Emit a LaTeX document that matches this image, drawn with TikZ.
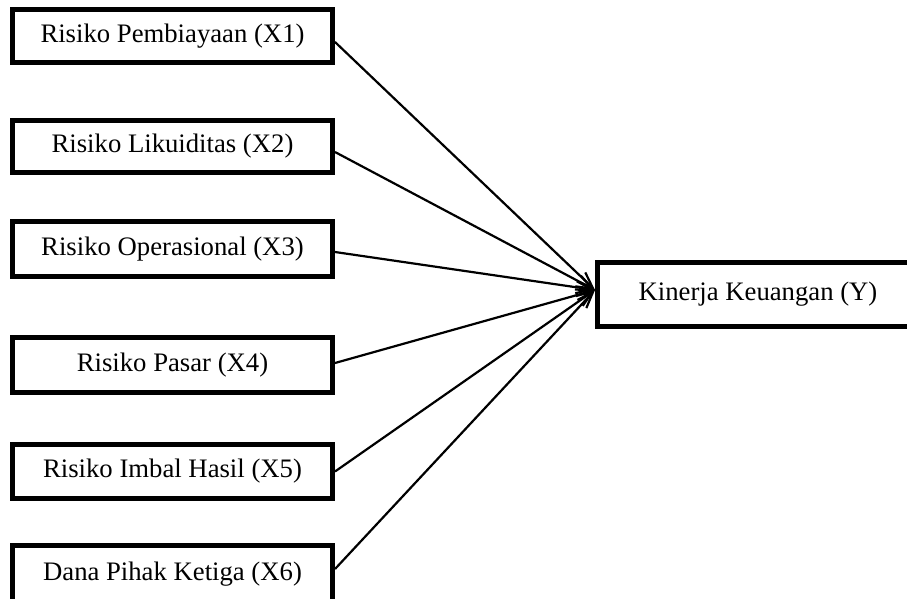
\documentclass[tikz,border=0pt]{standalone}
\usepackage{fontspec}
\setmainfont{Liberation Serif}
\usetikzlibrary{arrows.meta}
\begin{document}
\begin{tikzpicture}[x=1pt,y=-1pt,
  varbox/.style={draw=black,line width=5pt,fill=white,minimum width=320pt,inner sep=0pt,
    font=\fontsize{26.7}{32}\selectfont},
  arr/.style={line width=2.2pt,-{Straight Barb[length=16pt,width=12pt,line width=2.2pt]}}]
\useasboundingbox (0,0) rectangle (907,598);
\node[varbox,minimum height=53pt] (b1) at (172.5,36) {Risiko Pembiayaan (X1)};
\node[varbox,minimum height=52pt] (b2) at (172.5,146.5) {Risiko Likuiditas (X2)};
\node[varbox,minimum height=55pt] (b3) at (172.5,249) {Risiko Operasional (X3)};
\node[varbox,minimum height=55pt] (b4) at (172.5,365) {Risiko Pasar (X4)};
\node[varbox,minimum height=54pt] (b5) at (172.5,471.5) {Risiko Imbal Hasil (X5)};
\node[varbox,minimum height=61pt,text height=18pt,text depth=10pt] (b6) at (172.5,576) {Dana Pihak Ketiga (X6)};
\node[varbox,minimum width=321pt,minimum height=64pt] (k) at (758,294) {Kinerja Keuangan (Y)};
\coordinate (t) at ([yshift=4pt]k.west);
\draw[arr] ([yshift=-6pt]b1.east) -- (t);
\draw[arr] ([yshift=-5.5pt]b2.east) -- (t);
\draw[arr] ([yshift=-3pt]b3.east) -- (t);
\draw[arr] ([yshift=2pt]b4.east) -- (t);
\draw[arr] (b5.east) -- (t);
\draw[arr] ([yshift=7pt]b6.east) -- (t);
\end{tikzpicture}
\end{document}
